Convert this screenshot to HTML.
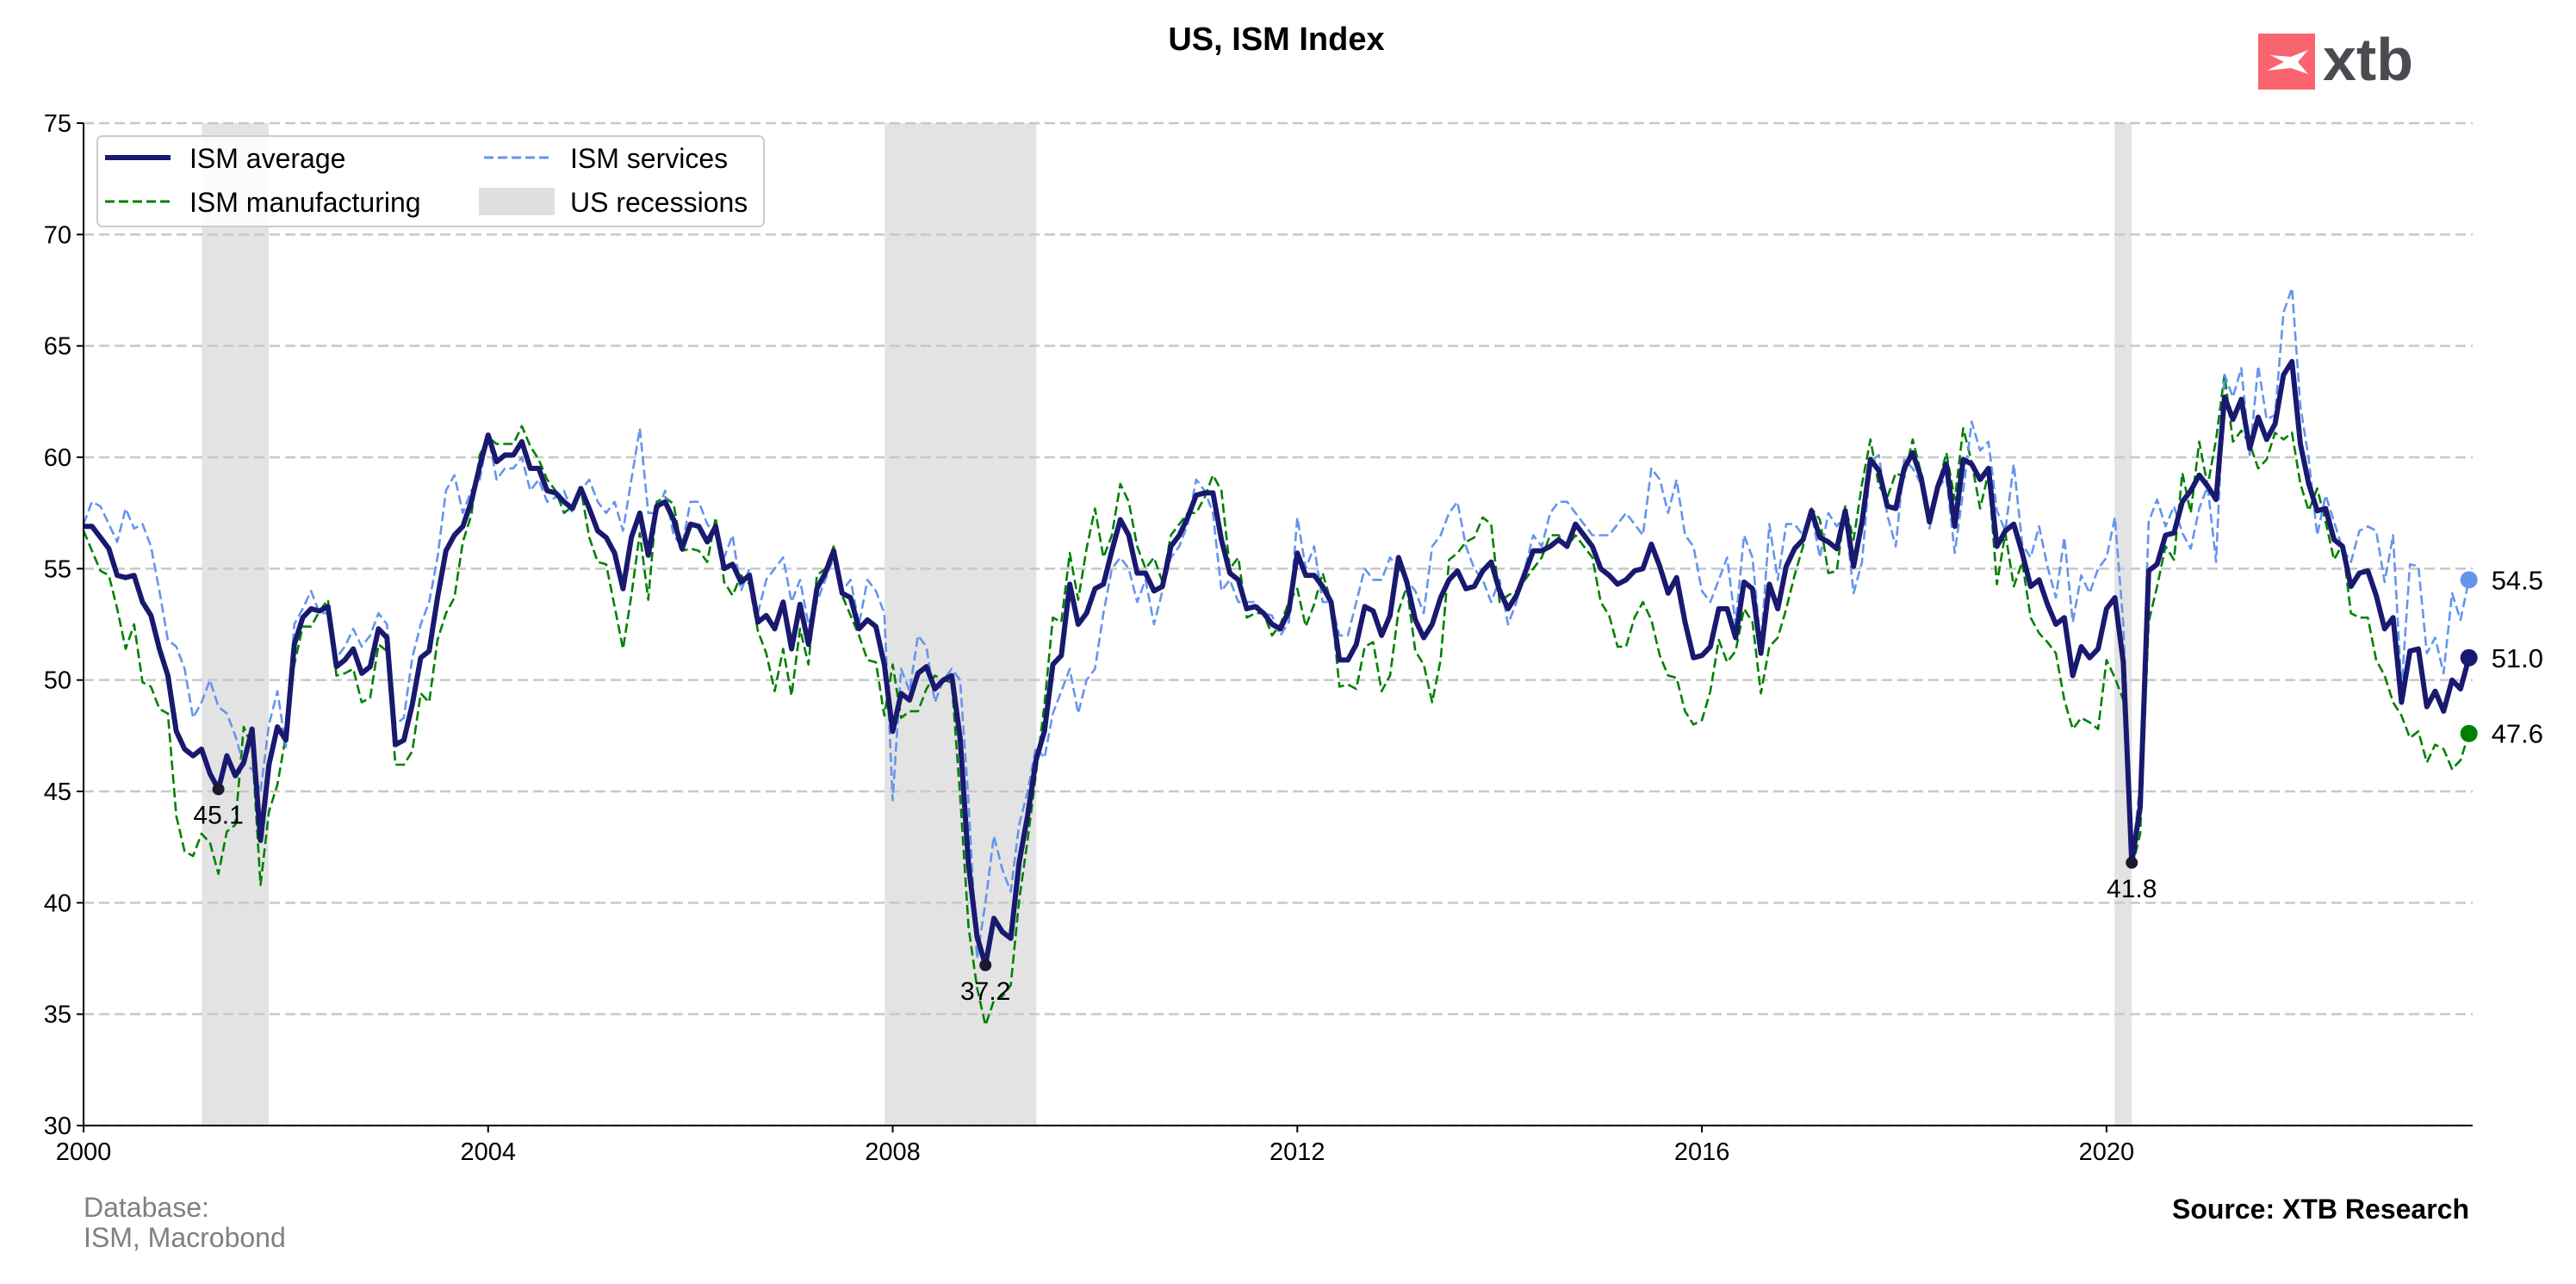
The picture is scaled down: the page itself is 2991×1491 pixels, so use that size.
<!DOCTYPE html>
<html><head><meta charset="utf-8"><style>
body{margin:0;background:#fff;}
svg text{font-family:"Liberation Sans",Arial,sans-serif;}
</style></head><body>
<svg id="chart" width="2991" height="1486" xmlns="http://www.w3.org/2000/svg">
<rect width="2991" height="1486" fill="#fff"/>
<text x="1482" y="58" font-size="38" font-weight="bold" text-anchor="middle">US, ISM Index</text>
<g>
<rect x="2622" y="39" width="66" height="65" fill="#f9646f"/>
<path d="M2632 82 L2652 72 L2636 64 L2660 66 L2680 58 L2668 72 L2680 86 L2660 79 Z" fill="#fff"/>
<text x="2697" y="93" font-size="70" font-weight="bold" fill="#4a4a50">xtb</text>
</g>
<g id="rec"></g>
<g id="grid"></g>
<g id="series"></g>
<g id="axes"></g>
<g id="ann"></g>
<g>
<rect x="113" y="158" width="774" height="105" rx="6" fill="#fff" fill-opacity="0.85" stroke="#ccc" stroke-width="2"/>
<line x1="122" y1="183" x2="198" y2="183" stroke="#191970" stroke-width="6"/>
<text x="220" y="195" font-size="32">ISM average</text>
<line x1="122" y1="234" x2="198" y2="234" stroke="#008000" stroke-width="3" stroke-dasharray="11,5"/>
<text x="220" y="246" font-size="32">ISM manufacturing</text>
<line x1="562" y1="183" x2="638" y2="183" stroke="#6495ed" stroke-width="3" stroke-dasharray="11,5"/>
<text x="662" y="195" font-size="32">ISM services</text>
<rect x="556" y="218" width="88" height="32" fill="#e0e0e0"/>
<text x="662" y="246" font-size="32">US recessions</text>
</g>
<text x="97" y="1413" font-size="32" fill="#808080">Database:</text>
<text x="97" y="1448" font-size="32" fill="#808080">ISM, Macrobond</text>
<text x="2867" y="1415" font-size="32" font-weight="bold" text-anchor="end">Source: XTB Research</text>
</svg>
<script>
const startYear = 2000;
const manufacturing = [
56.7,55.8,54.9,54.7,53.2,51.4,52.5,49.9,49.7,48.7,48.5,43.9,
42.3,42.1,43.1,42.7,41.3,43.2,43.5,47.9,47.0,40.8,44.1,45.3,
47.5,50.7,52.4,52.4,53.1,53.6,50.2,50.3,50.5,49.0,49.2,51.6,
51.3,46.2,46.2,46.8,49.4,49.0,51.8,53.0,53.7,56.2,57.4,60.1,
60.9,60.6,60.6,60.6,61.4,60.5,59.9,59.0,58.5,57.5,57.8,58.6,
56.4,55.3,55.2,53.3,51.4,53.8,56.6,53.6,58.0,58.2,57.9,55.8,
55.9,55.8,55.3,57.3,54.4,53.8,54.7,54.3,52.2,51.2,49.5,51.4,
49.3,52.3,50.7,54.7,55.0,56.0,53.8,52.9,52.0,50.9,50.8,48.4,
50.7,48.3,48.6,48.6,49.6,50.2,50.0,49.9,44.8,38.9,36.2,34.5,
35.6,35.8,36.3,40.1,42.8,45.8,48.9,52.8,52.6,55.7,53.6,55.9,
57.7,55.5,56.5,58.8,58.0,56.0,55.0,55.5,54.4,56.5,57.0,57.5,
57.5,58.2,59.2,58.5,55.0,55.5,52.8,53.0,53.0,52.0,52.5,53.5,
54.1,52.4,53.4,54.8,53.5,49.7,49.8,49.6,51.5,51.7,49.5,50.2,
53.1,54.2,51.3,50.7,49.0,50.9,55.4,55.7,56.2,56.4,57.3,57.0,
53.5,53.8,54.0,54.5,55.0,55.5,56.5,56.5,56.0,56.5,56.0,55.5,
53.5,52.9,51.5,51.5,52.8,53.5,52.7,51.1,50.2,50.1,48.6,48.0,
48.2,49.5,51.8,50.8,51.3,53.2,52.6,49.4,51.5,51.9,53.2,54.7,
56.0,57.7,57.2,54.8,54.9,57.8,56.3,58.8,60.8,58.7,58.2,59.3,
59.1,60.8,59.3,57.3,58.7,60.2,58.1,61.3,59.8,57.7,59.3,54.3,
56.6,54.2,55.3,52.8,52.1,51.7,51.2,49.1,47.8,48.3,48.1,47.8,
50.9,50.1,49.1,41.5,43.1,52.6,54.2,56.0,55.4,59.3,57.5,60.7,
58.7,60.8,63.7,60.7,61.2,60.6,59.5,59.9,61.1,60.8,61.1,58.8,
57.6,58.6,57.1,55.4,56.1,53.0,52.8,52.8,50.9,50.2,49.0,48.4,
47.4,47.7,46.3,47.1,46.9,46.0,46.4,47.6];
const services = [
57.0,58.0,57.8,57.0,56.2,57.7,56.8,57.0,56.0,54.0,51.8,51.5,
50.5,48.3,49.0,50.0,48.8,48.5,47.5,46.2,46.0,45.0,48.0,49.5,
47.0,52.5,53.2,54.0,53.0,53.0,51.0,51.5,52.3,51.5,52.0,53.0,
52.5,48.0,48.3,51.0,52.5,53.5,55.5,58.5,59.2,57.5,58.5,59.0,
61.0,59.0,59.5,59.5,60.0,58.5,59.0,58.0,58.2,58.5,57.5,58.5,
59.0,58.0,57.5,58.0,56.7,59.0,61.3,57.5,57.5,58.5,56.5,56.0,
58.0,58.0,57.0,56.5,55.5,56.5,54.0,55.0,53.0,54.5,55.0,55.5,
53.5,54.5,52.5,53.5,54.5,55.5,54.0,54.5,52.5,54.5,54.0,53.0,
44.6,50.5,49.5,52.0,51.5,49.0,50.0,50.5,50.0,44.5,37.5,40.0,
43.0,41.5,40.5,43.5,45.0,47.0,46.5,48.5,49.5,50.5,48.5,50.0,
50.5,53.0,55.0,55.5,55.0,53.5,54.5,52.5,54.0,55.5,56.0,57.0,
59.0,58.5,57.5,54.0,54.5,53.5,53.5,53.5,53.0,52.9,52.0,52.6,
57.3,55.0,56.0,53.5,53.5,52.0,52.0,53.5,55.0,54.5,54.5,55.5,
55.0,54.5,54.0,53.0,56.0,56.5,57.5,58.0,56.0,55.0,54.5,53.5,
54.5,52.5,53.5,55.0,56.5,56.0,57.5,58.0,58.0,57.5,57.0,56.5,
56.5,56.5,57.0,57.5,57.0,56.5,59.5,59.0,57.5,59.0,56.5,56.0,
54.0,53.5,54.5,55.5,52.5,56.5,55.5,51.5,57.0,54.5,57.0,57.0,
56.5,57.5,55.5,57.5,56.9,57.4,53.9,55.3,59.8,60.1,57.4,56.0,
59.9,59.5,58.8,56.8,58.6,59.1,55.7,58.5,61.6,60.3,60.7,57.6,
56.7,59.7,56.1,55.5,56.9,55.1,53.7,56.4,52.6,54.7,53.9,55.0,
55.5,57.3,52.5,41.8,45.4,57.1,58.1,56.9,57.8,56.6,55.9,57.7,
58.7,55.3,63.7,62.7,64.0,60.1,64.1,61.7,61.9,66.5,67.6,62.3,
59.9,56.5,58.3,57.1,55.9,55.3,56.7,56.9,56.7,54.4,56.5,49.6,
55.2,55.1,51.2,51.9,50.3,53.9,52.7,54.5];
const average = [
56.9,56.9,56.4,55.9,54.7,54.6,54.7,53.5,52.9,51.4,50.2,47.7,
46.9,46.6,46.9,45.8,45.1,46.6,45.7,46.3,47.8,42.8,46.2,47.9,
47.3,51.6,52.8,53.2,53.1,53.3,50.6,50.9,51.4,50.3,50.6,52.3,
51.9,47.1,47.3,48.9,51.0,51.3,53.7,55.8,56.5,56.9,58.0,59.6,
61.0,59.8,60.1,60.1,60.7,59.5,59.5,58.5,58.4,58.0,57.7,58.6,
57.7,56.7,56.4,55.7,54.1,56.4,57.5,55.6,57.8,58.0,57.2,55.9,
57.0,56.9,56.2,56.9,55.0,55.2,54.4,54.7,52.6,52.9,52.3,53.5,
51.4,53.4,51.6,54.1,54.8,55.8,53.9,53.7,52.3,52.7,52.4,50.7,
47.7,49.4,49.1,50.3,50.6,49.6,50.0,50.2,47.4,41.7,38.5,37.2,
39.3,38.7,38.4,41.8,43.9,46.4,47.7,50.7,51.1,54.3,52.5,53.0,
54.1,54.3,55.8,57.2,56.5,54.8,54.8,54.0,54.2,56.0,56.5,57.3,
58.3,58.4,58.4,56.3,54.8,54.5,53.2,53.3,53.0,52.5,52.3,53.1,
55.7,54.7,54.7,54.2,53.5,50.9,50.9,51.6,53.3,53.1,52.0,52.9,
55.5,54.4,52.7,51.9,52.5,53.7,54.5,54.9,54.1,54.2,54.9,55.3,
54.0,53.2,53.8,54.8,55.8,55.8,56.0,56.3,56.0,57.0,56.5,56.0,
55.0,54.7,54.3,54.5,54.9,55.0,56.1,55.1,53.9,54.6,52.6,51.0,
51.1,51.5,53.2,53.2,51.9,54.4,54.1,51.2,54.3,53.2,55.1,55.9,
56.3,57.6,56.4,56.2,55.9,57.6,55.1,57.1,59.9,59.4,57.8,57.7,
59.5,60.2,59.1,57.1,58.7,59.7,56.9,59.9,59.7,59.0,59.5,56.0,
56.7,57.0,55.7,54.2,54.5,53.4,52.5,52.8,50.2,51.5,51.0,51.4,
53.2,53.7,50.8,41.8,44.3,54.9,55.2,56.5,56.6,58.0,58.5,59.2,
58.7,58.1,62.7,61.7,62.6,60.4,61.8,60.8,61.5,63.7,64.3,60.6,
58.8,57.6,57.7,56.3,56.0,54.2,54.8,54.9,53.8,52.3,52.8,49.0,
51.3,51.4,48.8,49.5,48.6,50.0,49.6,51.0];
const recessionStarts = [2001.17, 2007.92, 2020.08];
const recessionEnds = [2001.83, 2009.42, 2020.25];
const annotIndex = [16, 107, 243];
const yTicks = [30,35,40,45,50,55,60,65,70,75];
const xTicks = [2000,2004,2008,2012,2016,2020];

const NS='http://www.w3.org/2000/svg';
const L=97,R=2871,T=143,B=1307,X0=2000,X1=2023.62,Y0=30,Y1=75;
const sx=t=>L+(t-X0)/(X1-X0)*(R-L);
const sy=v=>B-(v-Y0)/(Y1-Y0)*(B-T);
const tm=i=>startYear+i/12;
function mk(tag,attrs,parent){const e=document.createElementNS(NS,tag);for(const k in attrs)e.setAttribute(k,attrs[k]);parent.appendChild(e);return e;}
const gRec=document.getElementById('rec'),gGrid=document.getElementById('grid'),gS=document.getElementById('series'),gA=document.getElementById('axes'),gN=document.getElementById('ann');
recessionStarts.forEach((s,i)=>{
  const r=mk('rect',{x:sx(s),y:T,width:sx(recessionEnds[i])-sx(s),height:B-T,fill:'#e3e3e3'},gRec);
  
  
});
yTicks.forEach(v=>{
  const l=mk('line',{x1:L,x2:R,y1:sy(v),y2:sy(v),stroke:'#c8c8c8','stroke-width':2.5,'stroke-dasharray':'12,6'},gGrid);
  
  
  mk('line',{x1:L-8,x2:L,y1:sy(v),y2:sy(v),stroke:'#000','stroke-width':2},gA);
  const t=mk('text',{x:L-14,y:sy(v)+10,'font-size':29,'text-anchor':'end'},gA);
  t.textContent=v;
  
  
});
xTicks.forEach(v=>{
  mk('line',{x1:sx(v),x2:sx(v),y1:B,y2:B+8,stroke:'#000','stroke-width':2},gA);
  const t=mk('text',{x:sx(v),y:B+40,'font-size':29,'text-anchor':'middle'},gA);
  t.textContent=v;
  
  
});
mk('line',{x1:L,x2:L,y1:T,y2:B,stroke:'#000','stroke-width':2},gA);
mk('line',{x1:L,x2:R,y1:B,y2:B,stroke:'#000','stroke-width':2},gA);
function path(arr,color,w,dash,name){
  const d=arr.map((v,i)=>(i?'L':'M')+sx(tm(i)).toFixed(1)+' '+sy(v).toFixed(1)).join(' ');
  const p=mk('path',{d:d,fill:'none',stroke:color,'stroke-width':w,'stroke-linejoin':'round'},gS);
  if(dash)p.setAttribute('stroke-dasharray',dash);
  
  
}
path(manufacturing,'#008000',2.6,'11,5','manufacturing-line');
path(services,'#6495ed',2.6,'11,5','services-line');
path(average,'#191970',6,null,'average-line');
[[services,'#6495ed','services-end-label'],[average,'#191970','average-end-label'],[manufacturing,'#008000','manufacturing-end-label']].forEach(([a,c,n])=>{
  const i=a.length-1;
  mk('circle',{cx:sx(tm(i)),cy:sy(a[i]),r:10,fill:c},gN);
  const t=mk('text',{x:sx(tm(i))+26,y:sy(a[i])+11,'font-size':31},gN);
  t.textContent=a[i].toFixed(1);
  
  
});
annotIndex.forEach(i=>{
  mk('circle',{cx:sx(tm(i)),cy:sy(average[i]),r:7,fill:'#1a1a2e'},gN);
  const t=mk('text',{x:sx(tm(i)),y:sy(average[i])+40,'font-size':30,'text-anchor':'middle'},gN);
  t.textContent=average[i].toFixed(1);
  
  
});
</script>
</body></html>
